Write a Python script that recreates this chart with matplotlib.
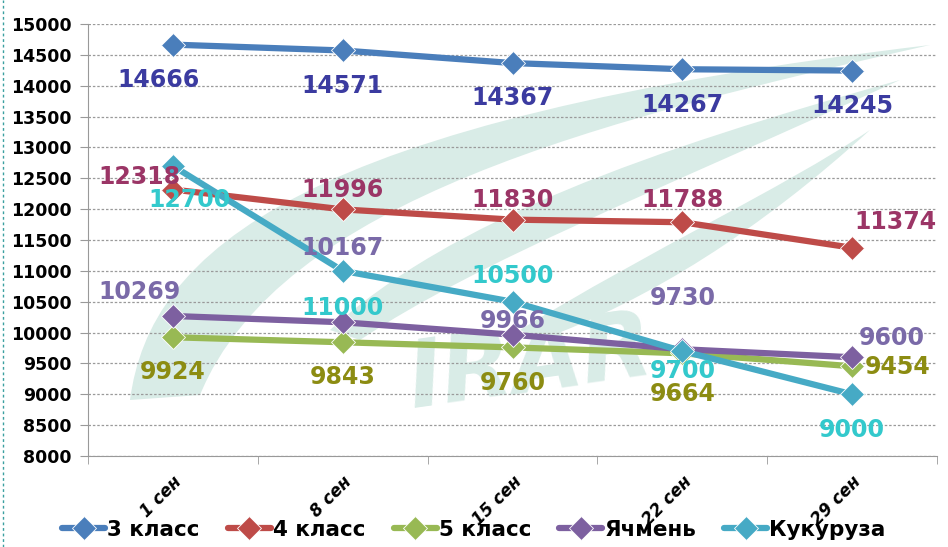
import matplotlib
matplotlib.use("Agg")
import matplotlib.pyplot as plt
from matplotlib.path import Path
from matplotlib.patches import PathPatch
from matplotlib.lines import Line2D

categories = ["1 сен", "8 сен", "15 сен", "22 сен", "29 сен"]
series_names = ["3 класс", "4 класс", "5 класс", "Ячмень", "Кукуруза"]
klass3 = [14666, 14571, 14367, 14267, 14245]
klass4 = [12318, 11996, 11830, 11788, 11374]
klass5 = [9924, 9843, 9760, 9664, 9454]
barley = [10269, 10167, 9966, 9730, 9600]
corn = [12700, 11000, 10500, 9700, 9000]
yticks = list(range(8000, 15001, 500))

series = [klass3, klass4, klass5, barley, corn]
line_colors = ["#4a7ebb", "#be4b48", "#98b954", "#7d60a0", "#46aac5"]
label_colors = ["#3b3ba0", "#9b3566", "#8c8c12", "#7a6aa8", "#33c9cc"]
# label offsets in pixels (dx, dy) with dy positive = down
offsets = [
    [(-14, 35), (0, 36), (0, 35), (0, 36), (0, 35)],
    [(-33, -13), (0, -19), (0, -20), (0, -22), (43, -26)],
    [(0, 35), (0, 35), (0, 36), (0, 41), (46, 1)],
    [(-33, -24), (0, -74), (0, -14), (0, -51), (40, -19)],
    [(17, 34), (0, 37), (0, -26), (0, 20), (0, 36)],
]

W, H = 948, 547
fig = plt.figure(figsize=(W / 100, H / 100), dpi=100)
ax = fig.add_axes([88 / W, 1 - 456 / H, (937 - 88) / W, (456 - 24) / H])

def fp(x, y):
    return (x / W, 1 - y / H)

wm = "#d9ece7"
shapes = [
    [(130, 400), (150, 250), (300, 120), (930, 45), (600, 120), (280, 200), (200, 395)],
    [(330, 330), (450, 220), (650, 150), (900, 80), (660, 190), (480, 260), (360, 340)],
    [(520, 330), (650, 250), (780, 190), (870, 130), (760, 230), (650, 300), (540, 340)],
]
for pts in shapes:
    verts = [fp(*p) for p in pts] + [fp(*pts[0])]
    codes = [Path.MOVETO] + [Path.CURVE4] * 6 + [Path.CLOSEPOLY]
    patch = PathPatch(Path(verts, codes), facecolor=wm, edgecolor="none",
                      transform=fig.transFigure, zorder=0.2, clip_on=False)
    ax.add_artist(patch)
ax.text(530 / W, 1 - 365 / H, "IRAR", fontsize=66, fontstyle="italic",
        fontweight="bold", color=wm, ha="center", va="center", rotation=8,
        zorder=0.3, transform=fig.transFigure)

ax.set_facecolor("none")
x = list(range(len(categories)))
for name, vals, lc, tc, offs in zip(series_names, series, line_colors, label_colors, offsets):
    ax.plot(x, vals, color=lc, lw=4.5, marker="D", markersize=12,
            markerfacecolor=lc, markeredgecolor="white", markeredgewidth=0.6,
            label=name, zorder=3, solid_capstyle="round")
    for xi, v, (dx, dy) in zip(x, vals, offs):
        ax.annotate(str(v), (xi, v), xytext=(dx * 0.72, -dy * 0.72),
                    textcoords="offset points", ha="center", va="center",
                    fontsize=17, fontweight="bold", color=tc, zorder=4)

ax.set_xlim(-0.5, 4.5)
ax.set_ylim(8000, 15000)
ax.set_yticks(yticks)
ax.set_yticklabels([str(t) for t in yticks], fontsize=12.5, fontweight="bold")
ax.set_xticks(x)
ax.set_xticklabels(categories, rotation=45, ha="right", rotation_mode="anchor",
                   fontsize=12, fontweight="bold", fontstyle="italic")
ax.set_xticks([i - 0.5 for i in range(len(categories) + 1)], minor=True)
ax.tick_params(axis="x", which="major", length=0, pad=12)
ax.tick_params(axis="x", which="minor", length=6, color="#999999", direction="out")
ax.tick_params(axis="y", length=6, color="#999999", direction="out", pad=6)
ax.yaxis.grid(True, linestyle=(0, (2, 1.5)), color="#9a9a9a", lw=0.9, zorder=1)
ax.set_axisbelow(True)
for s in ["top", "right"]:
    ax.spines[s].set_visible(False)
ax.spines["left"].set_color("#999999")
ax.spines["bottom"].set_color("#999999")

fig.legend(loc="lower center", bbox_to_anchor=(0.5, -0.022), ncol=5, frameon=False,
           prop={"weight": "bold", "size": 15.5}, handlelength=2.0, handletextpad=0.1,
           columnspacing=1.3)

fig.add_artist(Line2D([3 / W, 3 / W], [0, 1], color="#3aa0a0", lw=1,
                      linestyle=(0, (2, 2)), transform=fig.transFigure))

fig.savefig("out.png", dpi=100)
